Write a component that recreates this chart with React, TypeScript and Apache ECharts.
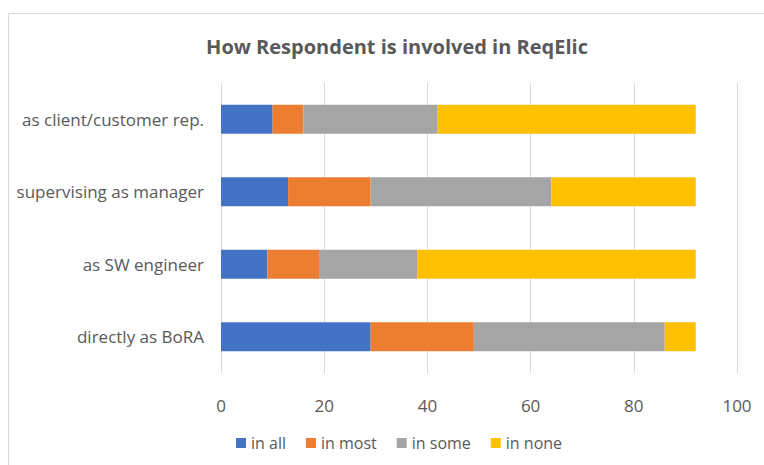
import React, { useEffect, useRef } from "react";
import * as echarts from "echarts";

const categories = ["directly as BoRA", "as SW engineer", "supervising as manager", "as client/customer rep."];
const seriesNames = ["in all", "in most", "in some", "in none"];
const inAll = [29, 9, 13, 10];
const inMost = [20, 10, 16, 6];
const inSome = [37, 19, 35, 26];
const inNone = [6, 54, 28, 50];
const xTicks = { min: 0, max: 100, interval: 20 };
const colors = ["#4472C4", "#ED7D31", "#A5A5A5", "#FFC000"];

export default function App() {
  const ref = useRef<HTMLDivElement>(null);
  useEffect(() => {
    if (!ref.current) return;
    const chart = echarts.init(ref.current, null, { renderer: "svg" });
    const font = "'Open Sans', 'Noto Sans', sans-serif";
    const values = [inAll, inMost, inSome, inNone];
    chart.setOption({
      animation: false,
      backgroundColor: "#ffffff",
      textStyle: { fontFamily: font },
      title: {
        text: "How Respondent is involved in ReqElic",
        left: 392,
        textAlign: "center",
        top: 31,
        textStyle: { fontFamily: font, fontSize: 20, fontWeight: "bold", color: "#595959" },
      },
      graphic: [
        {
          type: "rect",
          shape: { x: 8.5, y: 13.5, width: 800, height: 500 },
          style: { fill: "none", stroke: "#d9d9d9", lineWidth: 1 },
          silent: true,
        },
      ],
      legend: {
        data: seriesNames,
        top: 430,
        left: 231,
        itemWidth: 10,
        itemHeight: 10,
        itemGap: 20,
        icon: "rect",
        textStyle: { fontFamily: font, fontSize: 16, color: "#595959" },
      },
      grid: { left: 221, right: 27, top: 83, bottom: 92, containLabel: false },
      xAxis: {
        type: "value",
        min: xTicks.min,
        max: xTicks.max,
        interval: xTicks.interval,
        axisLine: { show: false },
        axisTick: { show: false },
        splitLine: { show: true, lineStyle: { color: "#d9d9d9", width: 1 } },
        axisLabel: { color: "#595959", fontSize: 17, margin: 24, fontFamily: font },
      },
      yAxis: {
        type: "category",
        data: categories,
        axisLine: { show: false },
        axisTick: { show: false },
        axisLabel: { color: "#595959", fontSize: 17, margin: 17, fontFamily: font },
      },
      series: seriesNames.map((name, i) => ({
        name,
        type: "bar",
        stack: "total",
        data: values[i],
        barCategoryGap: "60%",
        itemStyle: { color: colors[i] },
      })),
    });
    return () => chart.dispose();
  }, []);
  return (
    <div
      ref={ref}
      style={{ position: "fixed", left: 0, top: 0, width: 764, height: 465 }}
    />
  );
}
